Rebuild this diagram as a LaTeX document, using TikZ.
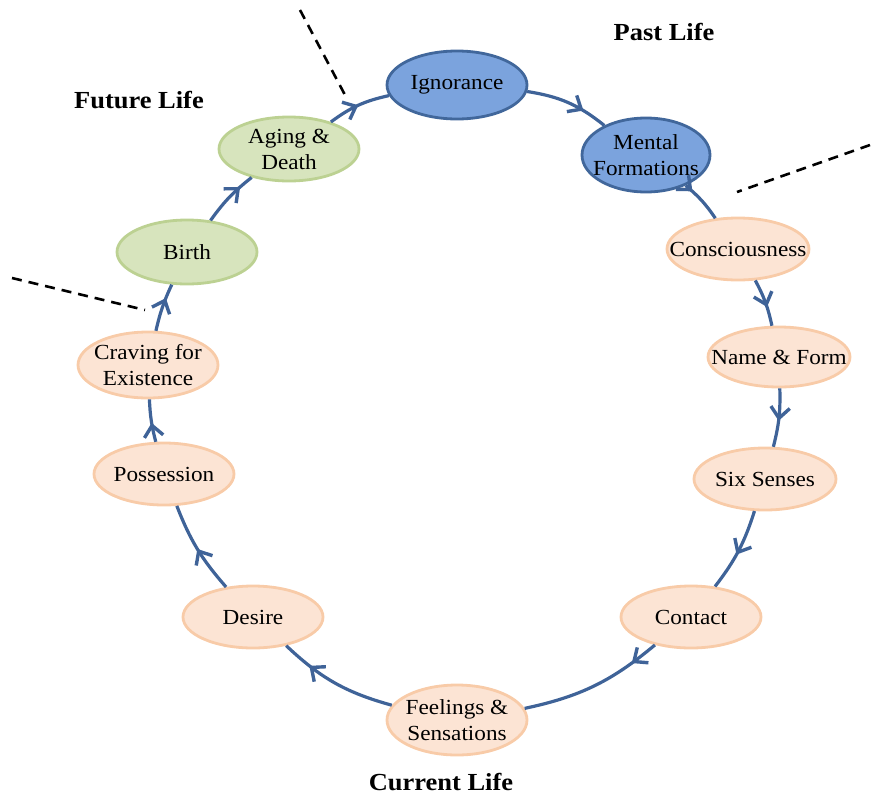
\documentclass[tikz,border=0pt]{standalone}
\usepackage{fontspec}
\setmainfont{Liberation Serif}[FakeStretch=1.08]
\usetikzlibrary{shapes.geometric,arrows.meta,decorations.markings}
\definecolor{bluefill}{HTML}{7BA3DD}
\definecolor{blueline}{HTML}{41679B}
\definecolor{peachfill}{HTML}{FCE4D4}
\definecolor{peachline}{HTML}{F8CBA8}
\definecolor{greenfill}{HTML}{D7E4BD}
\definecolor{greenline}{HTML}{BCD192}
\definecolor{conncol}{HTML}{3F6398}
\newcommand{\zw}[1]{\makebox[0pt]{#1}}
\begin{document}
\begin{tikzpicture}[x=1pt,y=-1pt,
  stage/.style={ellipse, minimum width=140pt, minimum height=64pt, inner sep=0pt,
    line width=2.8pt, align=center, font=\fontsize{21.5}{26}\selectfont},
  pastst/.style={stage, fill=bluefill, draw=blueline},
  nowst/.style={stage, fill=peachfill, draw=peachline},
  futst/.style={stage, fill=greenfill, draw=greenline},
  conn/.style={draw=conncol, line width=3.2pt, postaction={decorate},
    decoration={markings, mark=at position #1 with
      {\arrow[conncol]{Straight Barb[length=11pt,width=19pt,line width=3.4pt]}}}},
  lifelabel/.style={font=\bfseries\fontsize{24.5}{28}\selectfont},
  sep/.style={draw=black, line width=2.6pt, dash pattern=on 10pt off 7pt}
]
\useasboundingbox (0,0) rectangle (875,798);

\node[pastst, minimum width=140pt, minimum height=68pt] (ign) at (457,85) {\zw{Ignorance}};
\node[pastst, minimum width=128pt, minimum height=74pt] (men) at (646,155) {\zw{Mental}\\\zw{Formations}};
\node[nowst, minimum width=142pt, minimum height=62pt] (con) at (738,249) {\zw{Consciousness}};
\node[nowst, minimum width=142pt, minimum height=60pt] (nam) at (779,357) {\zw{Name \& Form}};
\node[nowst, minimum width=142pt, minimum height=62pt] (six) at (765,479) {\zw{Six Senses}};
\node[nowst, minimum width=140pt, minimum height=62pt] (cot) at (691,617) {\zw{Contact}};
\node[nowst, minimum width=140pt, minimum height=70pt] (fee) at (457,720) {\zw{Feelings \&}\\\zw{Sensations}};
\node[nowst, minimum width=140pt, minimum height=62pt] (des) at (253,617) {\zw{Desire}};
\node[nowst, minimum width=140pt, minimum height=62pt] (pos) at (164,474) {\zw{Possession}};
\node[nowst, minimum width=140pt, minimum height=66pt] (cra) at (148,365) {\zw{Craving for}\\\zw{Existence}};
\node[futst, minimum width=140pt, minimum height=64pt] (bir) at (187,252) {\zw{Birth}};
\node[futst, minimum width=140pt, minimum height=64pt] (age) at (289,149) {\zw{Aging \&}\\\zw{Death}};

\node[lifelabel] (past) at (664,32) {Past Life};
\node[lifelabel] (fut) at (139,100) {Future Life};
\node[lifelabel] (cur) at (441,782) {Current Life};

\path[conn=0.7] (ign) to[bend left=15] (men);
\path[conn=0.2] (men) to[bend left=8] (con);
\path[conn=0.6] (con) to[bend left=8] (nam);
\path[conn=0.55] (nam) to[bend left=8] (six);
\path[conn=0.55] (six) to[bend left=10] (cot);
\path[conn=0.2] (cot) to[bend left=14] (fee);
\path[conn=0.75] (fee) to[bend left=14] (des);
\path[conn=0.5] (des) to[bend left=10] (pos);
\path[conn=0.45] (pos) to[bend left=6] (cra);
\path[conn=0.7] (cra) to[bend left=6] (bir);
\path[conn=0.75] (bir) to[bend left=8] (age);
\path[conn=0.5] (age) to[bend left=12] (ign);

\coordinate (d1a) at (300,10);  \coordinate (d1b) at (345,95);
\coordinate (d2a) at (870,145); \coordinate (d2b) at (737,192);
\coordinate (d3a) at (12,278);  \coordinate (d3b) at (145,310);
\draw[sep] (d1a) -- (d1b);
\draw[sep] (d2a) -- (d2b);
\draw[sep] (d3a) -- (d3b);
\end{tikzpicture}
\end{document}
